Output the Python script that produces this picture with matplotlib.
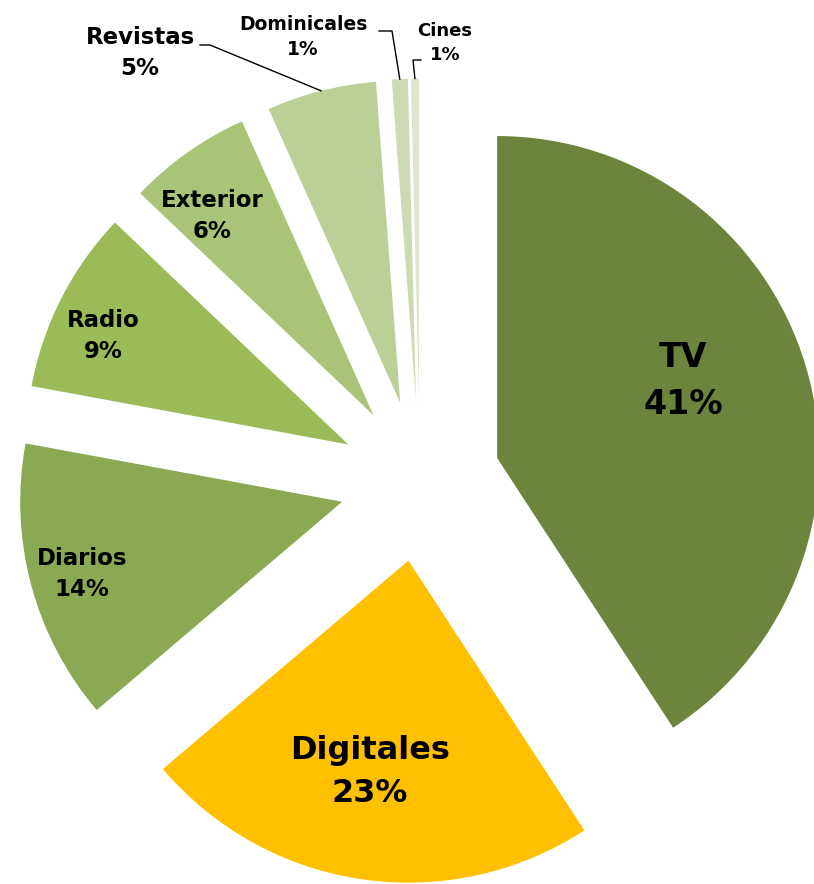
import matplotlib
matplotlib.use("Agg")
import matplotlib.pyplot as plt
import numpy as np

# ---- data ----
categories = ["TV", "Digitales", "Diarios", "Radio", "Exterior", "Revistas", "Dominicales", "Cines"]
values = [40.8, 23.0, 14.1, 9.2, 6.2, 5.5, 0.8, 0.4]
pct_labels = ["41%", "23%", "14%", "9%", "6%", "5%", "1%", "1%"]

# ---- style ----
colors = ["#6C843C", "#FFC000", "#8BA853", "#9BBB59", "#A9C476", "#BBCF97", "#CCDBB3", "#DCE6CA"]
W, H = 814, 884
R_PX = 322          # pie radius in pixels
CX, CY = 420, 481   # pie centre in pixels (from top-left)
EXPLODE = 0.25

def px2d(px, py):
    return (px - CX) / R_PX, (CY - py) / R_PX

fig = plt.figure(figsize=(W / 100, H / 100), dpi=100)
ax = fig.add_axes([0, 0, 1, 1])
wedges, _ = ax.pie(values, colors=colors, startangle=90, counterclock=False,
                   explode=[EXPLODE] * len(values), radius=1,
                   wedgeprops=dict(linewidth=0))
ax.set_xlim(-CX / R_PX, (W - CX) / R_PX)
ax.set_ylim(-(H - CY) / R_PX, CY / R_PX)
ax.set_aspect('equal')
ax.axis('off')

FONT = dict(family="DejaVu Sans", fontweight="bold", color="black")

# inside labels: radial fraction from wedge apex, angle offset (deg), font size, linespacing
inside = {
    "TV": (0.625, 6.0, 24, 1.55),
    "Digitales": (0.667, -2.0, 23, 1.5),
    "Diarios": (0.839, 0.6, 16.5, 1.45),
    "Radio": (0.833, 3.1, 16.5, 1.45),
    "Exterior": (0.797, 3.7, 16.5, 1.45),
}

def mid_angle(w):
    return np.deg2rad((w.theta1 + w.theta2) / 2)

for name, pct, w in zip(categories, pct_labels, wedges):
    if name in inside:
        frac, dth, fs, ls = inside[name]
        a = mid_angle(w) + np.deg2rad(dth)
        x = w.center[0] + frac * np.cos(a)
        y = w.center[1] + frac * np.sin(a)
        ax.text(x, y, f"{name}\n{pct}", ha="center", va="center",
                fontsize=fs, linespacing=ls, **FONT)

# outside labels with leader lines: text centre (px), leader knee points (px), font size
outside = {
    "Revistas": ((140, 53), [(200, 45), (210, 45)], 16.5, 1.4),
    "Dominicales": ((303, 37), [(379, 31), (392, 31)], 13.5, 1.45),
    "Cines": ((445, 43), [(421, 60), (413, 60)], 13, 1.45),
}
for name, pct, w in zip(categories, pct_labels, wedges):
    if name in outside:
        (tx, ty), knees, fs, ls = outside[name]
        x, y = px2d(tx, ty)
        ax.text(x, y, f"{name}\n{pct}", ha="center", va="center",
                fontsize=fs, linespacing=ls, **FONT)
        a = mid_angle(w)
        ex = w.center[0] + w.r * np.cos(a)
        ey = w.center[1] + w.r * np.sin(a)
        pts = [px2d(*k) for k in knees] + [(ex, ey)]
        ax.plot([p[0] for p in pts], [p[1] for p in pts], color="black", lw=1.0)

fig.savefig("out.png", dpi=100, facecolor="white")
